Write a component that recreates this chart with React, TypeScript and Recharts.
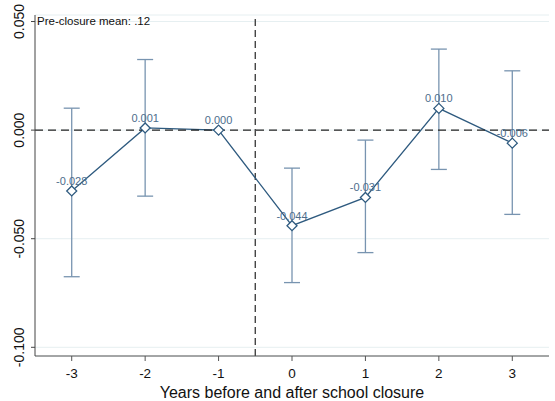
import { ComposedChart, Line, XAxis, YAxis, CartesianGrid, ReferenceLine, ErrorBar, LabelList } from 'recharts'

// event-study estimates, years relative to closure
const years = [-3, -2, -1, 0, 1, 2, 3]
const coefs = [-0.028, 0.001, 0.0, -0.044, -0.031, 0.01, -0.006]
const ciLow = [-0.0675, -0.0304, null, -0.0702, -0.0564, -0.0181, -0.0388]
const ciHigh = [0.0101, 0.0325, null, -0.0175, -0.0046, 0.0373, 0.0273]
const yTicks = [-0.1, -0.05, 0, 0.05]
const xTicks = [-3, -2, -1, 0, 1, 2, 3]

const FONT = '"Liberation Sans", Arial, sans-serif'
const LINE = '#2e5a7f'
const CI = '#7894b0'

const data = years.map((yr, i) => {
  const lo = ciLow[i]
  const hi = ciHigh[i]
  return {
    yr,
    coef: coefs[i],
    err: lo == null || hi == null ? null : [coefs[i] - lo, hi - coefs[i]],
  }
})

const Diamond = (props: any) => {
  const { cx, cy } = props
  if (cx == null || cy == null) return null
  const r = 5
  return (
    <path
      d={`M${cx},${cy - r} L${cx + r},${cy} L${cx},${cy + r} L${cx - r},${cy} Z`}
      fill="#fff"
      stroke={LINE}
      strokeWidth={1.3}
    />
  )
}

const YTick = (props: any) => {
  const { x, y, payload } = props
  const tx = x - 5
  return (
    <text
      x={tx}
      y={y}
      transform={`rotate(-90, ${tx}, ${y})`}
      textAnchor="middle"
      fontSize={14}
      fontFamily={FONT}
      fill="#111"
    >
      {Number(payload.value).toFixed(3)}
    </text>
  )
}

export default function App() {
  return (
    <div style={{ position: 'absolute', left: 0, top: 0, background: '#fff' }}>
      <ComposedChart width={555} height={401} data={data} margin={{ top: 15, right: 6, bottom: 0, left: 0 }}>
        <CartesianGrid vertical={false} stroke="#e6eff1" strokeWidth={1} />
        <XAxis
          dataKey="yr"
          type="number"
          domain={[-3.5, 3.5]}
          ticks={xTicks}
          height={45}
          stroke="#555"
          tickSize={5}
          tickMargin={7}
          tickLine={{ stroke: '#555' }}
          tick={{ fill: '#111', fontSize: 13.5, fontFamily: FONT }}
          label={{
            value: 'Years before and after school closure',
            position: 'insideBottom',
            offset: 3,
            fill: '#111',
            fontSize: 16,
            fontFamily: FONT,
          }}
        />
        <YAxis
          type="number"
          domain={[-0.104, 0.053]}
          ticks={yTicks}
          allowDataOverflow
          width={35}
          stroke="#444"
          tickSize={4}
          tickLine={{ stroke: '#444' }}
          tick={<YTick />}
        />
        <ReferenceLine x={-0.5} stroke="#444" strokeWidth={1.4} strokeDasharray="7 4" />
        <Line
          dataKey="coef"
          stroke={LINE}
          strokeWidth={1.3}
          dot={<Diamond />}
          activeDot={false}
          isAnimationActive={false}
        >
          <ErrorBar dataKey="err" direction="y" width={8} stroke={CI} strokeWidth={1.3} />
          <LabelList
            dataKey="coef"
            position="top"
            offset={6}
            fill="#4d6d8c"
            fontSize={11}
            fontFamily={FONT}
            formatter={(v: any) => Number(v).toFixed(3)}
          />
        </Line>
        <ReferenceLine y={0} stroke="#222" strokeWidth={1.4} strokeDasharray="8 5" />
        <text x={37} y={25} fontSize={11.5} fontFamily={FONT} fill="#111">
          Pre-closure mean: .12
        </text>
      </ComposedChart>
    </div>
  )
}
